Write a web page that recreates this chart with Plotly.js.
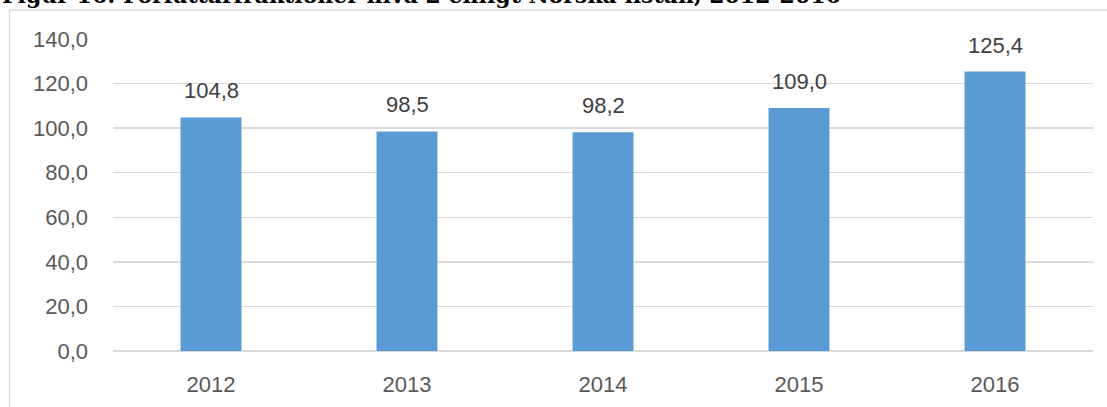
<!DOCTYPE html>
<html>
<head>
<meta charset="utf-8">
<script src="https://cdn.plot.ly/plotly-3.0.1.min.js"></script>
<style>html,body{margin:0;padding:0;background:#fff;}#chart{width:1107px;height:407px;}</style>
</head>
<body>
<div id="chart"></div>
<script>
const years = ['2012', '2013', '2014', '2015', '2016'];
const values = [104.8, 98.5, 98.2, 109.0, 125.4];
const titleText = 'Figur 16: Författarfraktioner nivå 2 enligt Norska listan, 2012-2016';

const W = 1107, H = 407;
const L = 113, R = 14, T = 39, B = 56;
const pw = W - L - R, ph = H - T - B;
const px2x = p => (p - L) / pw;
const py2y = p => (H - B - p) / ph;

const fmt = v => v.toFixed(1).replace('.', ',');
const tickFont = {family: 'Liberation Sans, Arial, sans-serif', size: 22, color: '#595959'};

const annotations = years.map((y, i) => ({
  x: i, y: values[i], xref: 'x', yref: 'y',
  text: fmt(values[i]), showarrow: false,
  yanchor: 'bottom', yshift: 12,
  font: {family: 'Liberation Sans, Arial, sans-serif', size: 22, color: '#404040'}
}));
annotations.push({
  xref: 'paper', yref: 'paper', x: px2x(0), y: 1, xanchor: 'left', yanchor: 'bottom',
  yshift: 29, text: '<b>' + titleText + '</b>', showarrow: false,
  font: {family: 'DejaVu Serif, serif', size: 22, color: '#000'}
});

const data = [{
  type: 'bar', x: years, y: values,
  marker: {color: '#5B9BD5'},
  hoverinfo: 'none'
}];

const layout = {
  width: W, height: H,
  margin: {l: L, r: R, t: T, b: B, pad: 0},
  paper_bgcolor: '#fff', plot_bgcolor: '#fff',
  separators: ',.',
  bargap: 0.689,
  showlegend: false,
  xaxis: {
    type: 'category', range: [-0.5, 4.5], autorange: false,
    showgrid: false, zeroline: false, showline: false, ticks: '',
    tickfont: tickFont, ticklabelstandoff: 18
  },
  yaxis: {
    range: [0, 140], autorange: false, dtick: 20, tickformat: '.1f', showline: false, ticks: '',
    gridcolor: '#D9D9D9', gridwidth: 1.3,
    zeroline: true, zerolinecolor: '#D9D9D9', zerolinewidth: 1.6,
    tickfont: tickFont, ticklabelstandoff: 24
  },
  annotations: annotations,
  shapes: [
    {type: 'line', xref: 'paper', yref: 'paper', x0: px2x(9.5), x1: px2x(9.5), y0: py2y(10), y1: py2y(H + 5), line: {color: '#D9D9D9', width: 1.5}},
    {type: 'line', xref: 'paper', yref: 'paper', x0: px2x(9.5), x1: px2x(W + 5), y0: py2y(10), y1: py2y(10), line: {color: '#D9D9D9', width: 1.5}}
  ]
};

Plotly.newPlot('chart', data, layout, {displayModeBar: false, staticPlot: true});
</script>
</body>
</html>
